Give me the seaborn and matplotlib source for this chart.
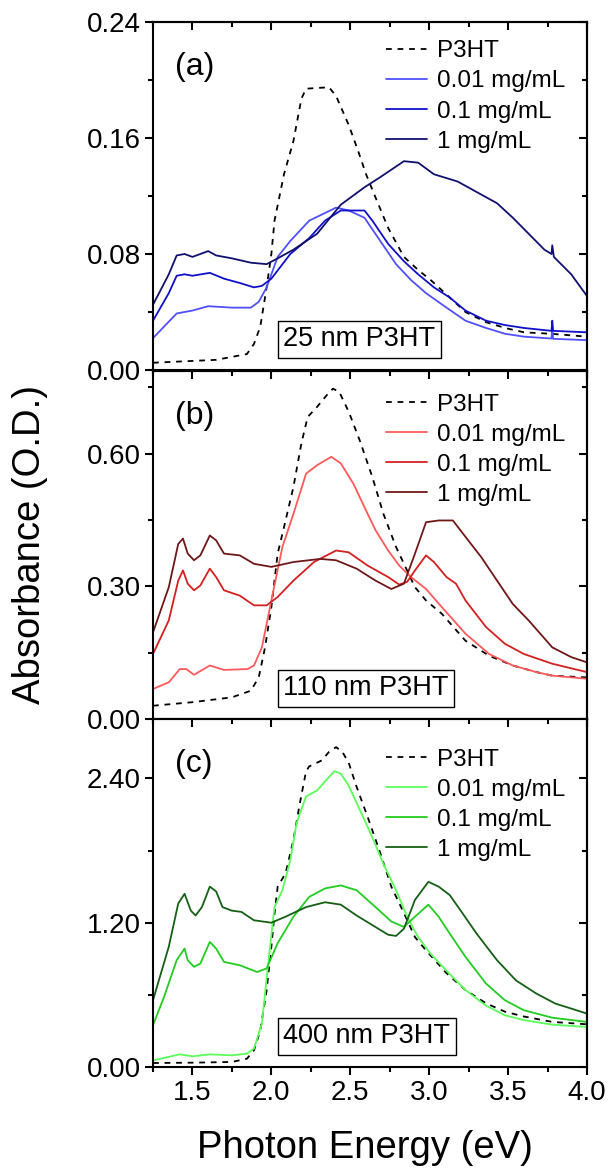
import numpy as np
import pandas as pd
import matplotlib
matplotlib.use("Agg")
import matplotlib.pyplot as plt
from matplotlib.ticker import MultipleLocator, FormatStrFormatter
import seaborn as sns

# ---- data (photon energy in eV, absorbance in O.D.) ----
labels = ["P3HT", "0.01 mg/mL", "0.1 mg/mL", "1 mg/mL"]
thickness = ["25 nm P3HT", "110 nm P3HT", "400 nm P3HT"]
panel_tags = ["(a)", "(b)", "(c)"]

# panel (a) 25 nm
a_p3ht_x = [1.25, 1.65, 1.845, 1.89, 1.93, 1.97, 2.0, 2.02, 2.08, 2.14, 2.19, 2.22, 2.365, 2.41,
            2.49, 2.55, 2.6, 2.66, 2.74, 2.84, 2.93, 3.01, 3.13, 3.23, 3.36, 3.48, 3.6, 3.77, 4.0]
a_p3ht_y = [0.005, 0.007, 0.011, 0.018, 0.03, 0.057, 0.08, 0.103, 0.135, 0.158, 0.187, 0.194, 0.195, 0.189,
            0.169, 0.151, 0.135, 0.119, 0.098, 0.078, 0.069, 0.062, 0.050, 0.040, 0.033, 0.029, 0.026, 0.025, 0.023]
a_c001_x = [1.25, 1.4, 1.5, 1.6, 1.75, 1.87, 1.92, 1.97, 2.04, 2.12, 2.24, 2.41, 2.49, 2.59, 2.69, 2.79,
            2.885, 2.98, 3.11, 3.23, 3.36, 3.48, 3.6, 3.775, 3.78, 3.785, 4.0]
a_c001_y = [0.022, 0.039, 0.041, 0.044, 0.043, 0.043, 0.047, 0.057, 0.078, 0.089, 0.103, 0.112, 0.110, 0.105, 0.089, 0.073,
            0.062, 0.053, 0.043, 0.034, 0.029, 0.025, 0.023, 0.0217, 0.030, 0.0215, 0.0206]
a_c01_x = [1.25, 1.35, 1.4, 1.45, 1.5, 1.61, 1.7, 1.8, 1.89, 1.94, 2.0, 2.12, 2.24, 2.34, 2.44, 2.59, 2.64,
           2.74, 2.84, 2.93, 3.03, 3.13, 3.23, 3.36, 3.48, 3.6, 3.775, 3.78, 3.785, 4.0]
a_c01_y = [0.034, 0.053, 0.065, 0.066, 0.065, 0.067, 0.063, 0.060, 0.057, 0.058, 0.063, 0.080, 0.091, 0.103, 0.110, 0.110, 0.103,
           0.087, 0.075, 0.066, 0.057, 0.050, 0.041, 0.034, 0.031, 0.029, 0.027, 0.034, 0.027, 0.026]
a_c1_x = [1.25, 1.35, 1.4, 1.45, 1.5, 1.6, 1.65, 1.75, 1.87, 1.97, 2.04, 2.14, 2.29, 2.44, 2.59, 2.69, 2.84,
          2.93, 3.03, 3.18, 3.33, 3.43, 3.53, 3.63, 3.73, 3.775, 3.78, 3.79, 3.9, 4.0]
a_c1_y = [0.045, 0.066, 0.079, 0.080, 0.078, 0.082, 0.079, 0.077, 0.074, 0.073, 0.077, 0.083, 0.094, 0.114, 0.126, 0.133, 0.144,
          0.143, 0.135, 0.130, 0.121, 0.115, 0.105, 0.094, 0.083, 0.080, 0.086, 0.078, 0.066, 0.051]

# panel (b) 110 nm
b_p3ht_x = [1.25, 1.5, 1.75, 1.87, 1.92, 1.96, 2.0, 2.04, 2.09, 2.14, 2.19, 2.23, 2.29, 2.35, 2.39, 2.43,
            2.49, 2.56, 2.64, 2.71, 2.79, 2.86, 2.91, 2.98, 3.08, 3.23, 3.38, 3.53, 3.68, 3.78, 4.0]
b_p3ht_y = [0.030, 0.038, 0.049, 0.064, 0.094, 0.162, 0.253, 0.374, 0.449, 0.525, 0.623, 0.683, 0.706, 0.732, 0.747, 0.740,
            0.695, 0.630, 0.547, 0.464, 0.389, 0.336, 0.298, 0.268, 0.238, 0.177, 0.143, 0.121, 0.106, 0.098, 0.094]
b_c001_x = [1.25, 1.35, 1.42, 1.46, 1.51, 1.61, 1.7, 1.85, 1.89, 1.94, 2.0, 2.07, 2.14, 2.22, 2.29, 2.38,
            2.44, 2.52, 2.59, 2.66, 2.74, 2.81, 2.885, 2.98, 3.08, 3.23, 3.38, 3.53, 3.68, 3.78, 4.0]
b_c001_y = [0.068, 0.083, 0.113, 0.113, 0.100, 0.121, 0.111, 0.113, 0.121, 0.162, 0.268, 0.389, 0.464, 0.555, 0.574, 0.593,
            0.578, 0.532, 0.479, 0.427, 0.381, 0.347, 0.321, 0.294, 0.253, 0.193, 0.147, 0.121, 0.106, 0.098, 0.091]
b_c01_x = [1.25, 1.35, 1.41, 1.44, 1.47, 1.51, 1.55, 1.61, 1.65, 1.7, 1.8, 1.89, 1.97, 2.04, 2.14, 2.27,
           2.41, 2.49, 2.61, 2.74, 2.81, 2.86, 2.91, 2.98, 3.03, 3.11, 3.17, 3.23, 3.36, 3.48, 3.6, 3.78, 4.0]
b_c01_y = [0.147, 0.223, 0.313, 0.336, 0.306, 0.291, 0.302, 0.340, 0.321, 0.291, 0.279, 0.257, 0.257, 0.276, 0.313, 0.355,
           0.381, 0.377, 0.347, 0.321, 0.304, 0.310, 0.336, 0.370, 0.355, 0.321, 0.306, 0.268, 0.208, 0.170, 0.147, 0.125, 0.106]
b_c1_x = [1.25, 1.35, 1.41, 1.44, 1.47, 1.51, 1.55, 1.61, 1.65, 1.7, 1.8, 1.89, 2.0, 2.14, 2.31, 2.41,
          2.54, 2.66, 2.76, 2.84, 2.91, 2.98, 3.06, 3.15, 3.23, 3.33, 3.43, 3.53, 3.63, 3.78, 3.9, 4.0]
b_c1_y = [0.196, 0.298, 0.396, 0.408, 0.374, 0.359, 0.370, 0.415, 0.404, 0.374, 0.370, 0.351, 0.344, 0.355, 0.362, 0.359,
          0.340, 0.313, 0.294, 0.306, 0.374, 0.445, 0.449, 0.449, 0.412, 0.366, 0.313, 0.260, 0.223, 0.162, 0.140, 0.128]

# panel (c) 400 nm
c_p3ht_x = [1.25, 1.5, 1.75, 1.845, 1.89, 1.93, 1.97, 2.0, 2.02, 2.04, 2.09, 2.14, 2.18, 2.22, 2.24, 2.32,
            2.365, 2.41, 2.45, 2.49, 2.54, 2.61, 2.69, 2.76, 2.84, 2.91, 2.98, 3.11, 3.23, 3.36, 3.48, 3.6, 3.78, 4.0]
c_p3ht_y = [0.033, 0.036, 0.042, 0.069, 0.139, 0.305, 0.638, 1.00, 1.276, 1.50, 1.61, 1.89, 2.19, 2.46, 2.50, 2.55,
            2.62, 2.66, 2.62, 2.53, 2.33, 2.08, 1.78, 1.50, 1.28, 1.08, 0.97, 0.78, 0.64, 0.53, 0.46, 0.42, 0.375, 0.355]
c_c001_x = [1.25, 1.42, 1.5, 1.61, 1.75, 1.845, 1.89, 1.94, 1.98, 2.02, 2.07, 2.12, 2.16, 2.22, 2.29, 2.35,
            2.4, 2.44, 2.49, 2.56, 2.64, 2.71, 2.79, 2.86, 2.93, 3.01, 3.11, 3.23, 3.36, 3.48, 3.6, 3.78, 4.0]
c_c001_y = [0.055, 0.105, 0.089, 0.105, 0.097, 0.111, 0.153, 0.361, 0.86, 1.33, 1.47, 1.72, 2.03, 2.25, 2.30, 2.39,
            2.46, 2.44, 2.34, 2.14, 1.91, 1.69, 1.47, 1.25, 1.08, 0.94, 0.80, 0.64, 0.51, 0.43, 0.39, 0.352, 0.333]
c_c01_x = [1.25, 1.32, 1.4, 1.45, 1.47, 1.51, 1.55, 1.61, 1.65, 1.7, 1.8, 1.91, 1.97, 2.04, 2.14, 2.24,
           2.34, 2.44, 2.54, 2.66, 2.76, 2.84, 2.91, 2.995, 3.06, 3.13, 3.23, 3.36, 3.48, 3.6, 3.78, 4.0]
c_c01_y = [0.347, 0.583, 0.888, 0.985, 0.888, 0.833, 0.86, 1.04, 0.985, 0.874, 0.846, 0.79, 0.82, 1.03, 1.25, 1.415,
           1.485, 1.51, 1.47, 1.33, 1.21, 1.165, 1.25, 1.35, 1.25, 1.11, 0.916, 0.694, 0.555, 0.472, 0.41, 0.375]
c_c1_x = [1.25, 1.35, 1.41, 1.45, 1.49, 1.52, 1.56, 1.61, 1.65, 1.69, 1.75, 1.81, 1.89, 2.0, 2.09, 2.22,
          2.34, 2.44, 2.54, 2.64, 2.74, 2.79, 2.84, 2.91, 2.995, 3.06, 3.13, 3.2, 3.3, 3.43, 3.55, 3.68, 3.8, 3.9, 4.0]
c_c1_y = [0.555, 1.00, 1.36, 1.44, 1.30, 1.26, 1.33, 1.50, 1.46, 1.33, 1.30, 1.29, 1.22, 1.20, 1.25, 1.33,
          1.37, 1.35, 1.26, 1.18, 1.10, 1.09, 1.15, 1.39, 1.54, 1.50, 1.43, 1.30, 1.11, 0.888, 0.72, 0.61, 0.527, 0.486, 0.444]

panels = [
    [(a_p3ht_x, a_p3ht_y), (a_c001_x, a_c001_y), (a_c01_x, a_c01_y), (a_c1_x, a_c1_y)],
    [(b_p3ht_x, b_p3ht_y), (b_c001_x, b_c001_y), (b_c01_x, b_c01_y), (b_c1_x, b_c1_y)],
    [(c_p3ht_x, c_p3ht_y), (c_c001_x, c_c001_y), (c_c01_x, c_c01_y), (c_c1_x, c_c1_y)],
]
y_tops = [0.24, 0.787, 2.894]
y_major = [0.08, 0.30, 1.20]
colors = [
    ["black", "#5050ff", "#1010cc", "#101070"],
    ["black", "#ff5a5a", "#d42020", "#701818"],
    ["black", "#5aff5a", "#22cc22", "#156015"],
]
legend_anchor = [(0.536, 0.947), (0.536, 0.935), (0.536, 0.915)]

# ---- plotting ----
sns.set_theme(style="ticks")
plt.rcParams['font.family'] = ['Liberation Sans', 'DejaVu Sans']
plt.rcParams['axes.linewidth'] = 1.5
plt.rcParams['axes.edgecolor'] = 'black'
plt.rcParams['xtick.color'] = 'black'
plt.rcParams['ytick.color'] = 'black'
plt.rcParams['text.color'] = 'black'

fig = plt.figure(figsize=(6.09, 11.71), dpi=100)
left, width, height = 153 / 609, 434 / 609, 348 / 1171
bottoms = [(1171 - 370) / 1171, (1171 - 719) / 1171, (1171 - 1067) / 1171]

for i in range(3):
    ax = fig.add_axes([left, bottoms[i], width, height])
    for j, (xs, ys) in enumerate(panels[i]):
        df = pd.DataFrame({"E": xs, "A": ys})
        ls = (0, (3.2, 3.2)) if j == 0 else "-"
        sns.lineplot(data=df, x="E", y="A", ax=ax, color=colors[i][j], lw=1.3,
                     linestyle=ls, label=labels[j], sort=False, estimator=None)

    ax.set_xlim(1.25, 4.0)
    ax.set_ylim(0, y_tops[i])
    ax.xaxis.set_major_locator(MultipleLocator(0.5))
    ax.xaxis.set_minor_locator(MultipleLocator(0.25))
    ax.yaxis.set_major_locator(MultipleLocator(y_major[i]))
    ax.yaxis.set_minor_locator(MultipleLocator(y_major[i] / 2))
    ax.yaxis.set_major_formatter(FormatStrFormatter('%.2f'))
    ax.xaxis.set_major_formatter(FormatStrFormatter('%.1f'))
    ax.tick_params(which='major', direction='out', length=6, width=1.5, labelsize=20, pad=3)
    ax.tick_params(which='minor', direction='out', length=3.5, width=1.5)
    ax.set_xlabel("")
    ax.set_ylabel("")
    if i < 2:
        ax.tick_params(axis='x', labelbottom=False)

    # inward ticks on top and right
    top = ax.secondary_xaxis('top')
    top.xaxis.set_major_locator(MultipleLocator(0.5))
    top.xaxis.set_minor_locator(MultipleLocator(0.25))
    top.tick_params(which='both', direction='in', labeltop=False, width=1.5)
    top.tick_params(which='major', length=6)
    top.tick_params(which='minor', length=3.5)
    right = ax.secondary_yaxis('right')
    right.yaxis.set_major_locator(MultipleLocator(y_major[i]))
    right.yaxis.set_minor_locator(MultipleLocator(y_major[i] / 2))
    right.tick_params(which='both', direction='in', labelright=False, width=1.5)
    right.tick_params(which='major', length=6)
    right.tick_params(which='minor', length=3.5)

    ax.legend(loc='upper left', bbox_to_anchor=legend_anchor[i], frameon=False, fontsize=17.5,
              handlelength=1.72, handletextpad=0.4, labelspacing=0.33, borderpad=0, borderaxespad=0)
    ax.text(0.05, 0.872, panel_tags[i], transform=ax.transAxes, fontsize=23, ha='left', va='center')
    ax.text(0.30, 0.088, thickness[i], transform=ax.transAxes, fontsize=19.5, ha='left', va='center',
            bbox=dict(boxstyle='square,pad=0.2', fc='white', ec='black', lw=1))

fig.text(0.05, (1171 - 545) / 1171, "Absorbance (O.D.)", rotation=90, fontsize=27.5, ha='center', va='center')
fig.text(365 / 609, (1171 - 1148) / 1171, "Photon Energy (eV)", fontsize=27.5, ha='center', va='center')

fig.savefig("out.png", dpi=100)
